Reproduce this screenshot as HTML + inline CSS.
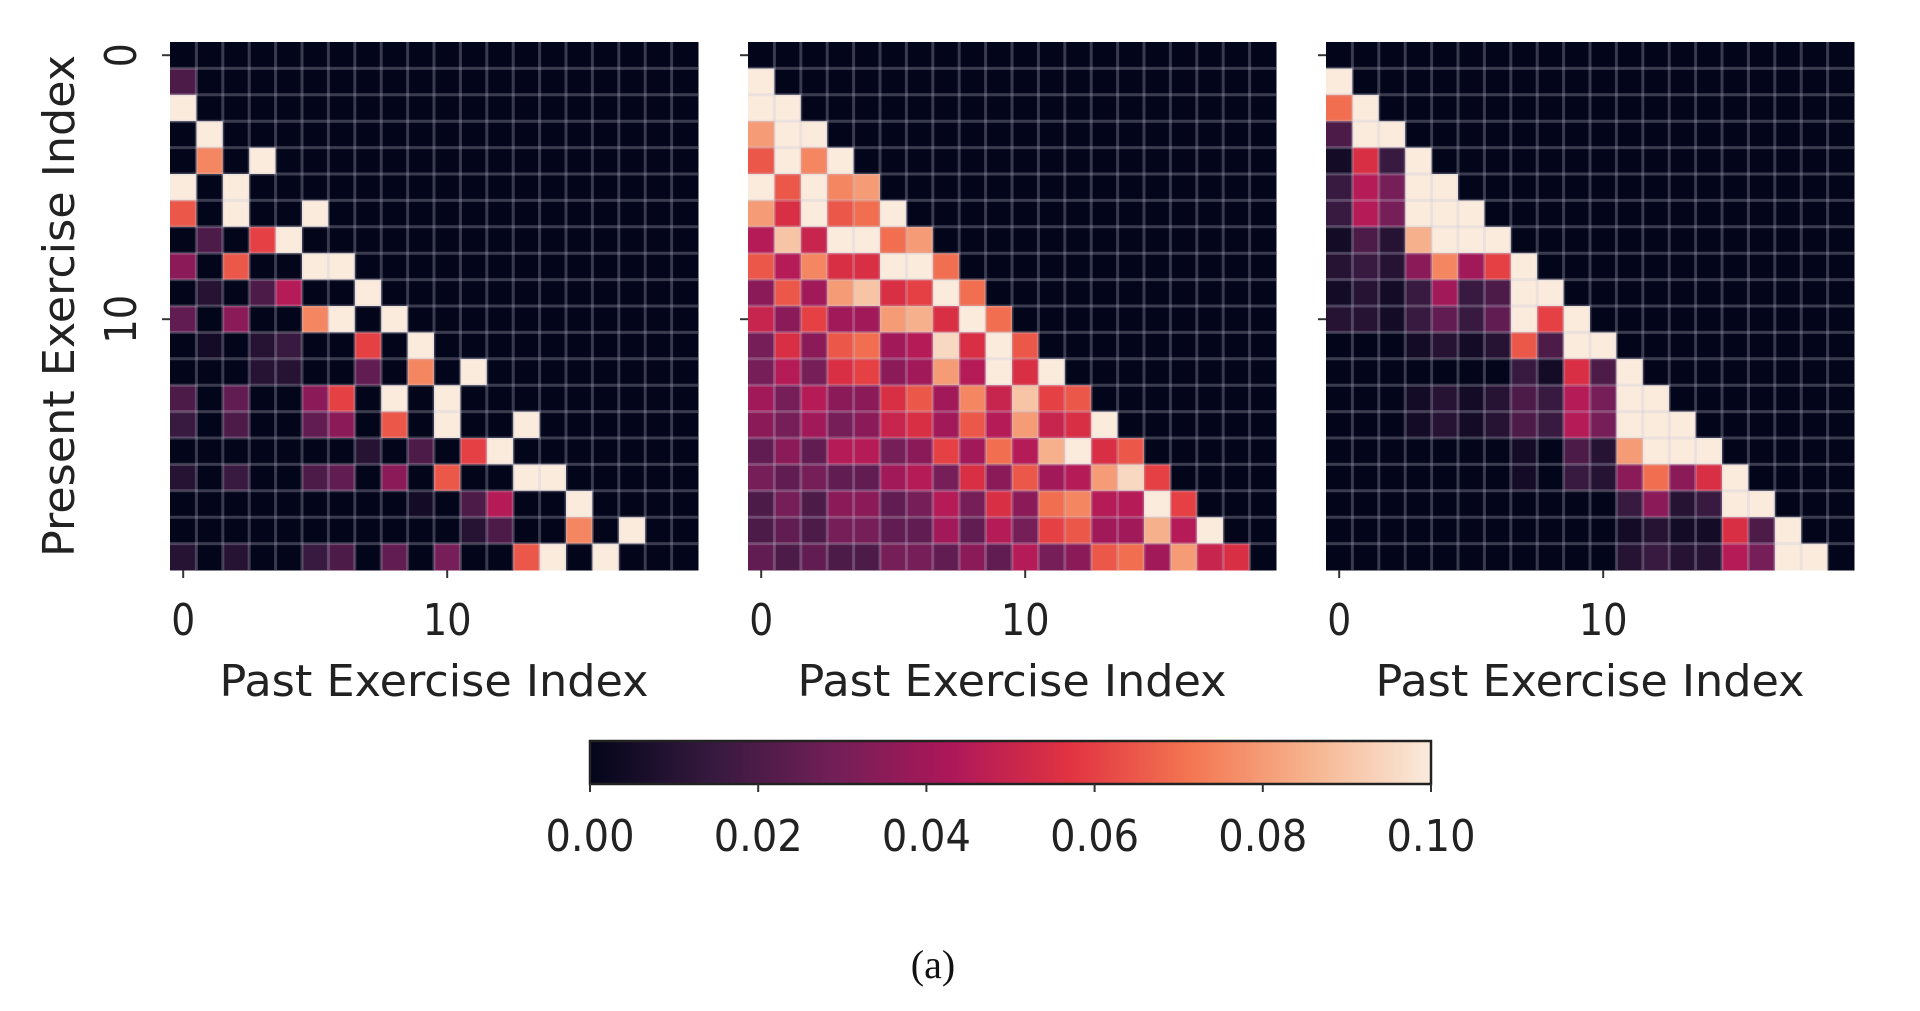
<!DOCTYPE html>
<html><head><meta charset="utf-8"><style>
html,body{margin:0;padding:0;background:#fff;}
svg{display:block;}
text{font-family:"DejaVu Sans","Liberation Sans",sans-serif;fill:#222;}
</style></head><body>
<svg id="fig" width="1920" height="1011" viewBox="0 0 1920 1011" xmlns="http://www.w3.org/2000/svg">
<defs>
<linearGradient id="rocket" x1="0" x2="1" y1="0" y2="0">
<stop offset="0" stop-color="#03051A"/><stop offset="0.143" stop-color="#35193e"/><stop offset="0.286" stop-color="#701f57"/><stop offset="0.429" stop-color="#ad1759"/><stop offset="0.571" stop-color="#e13342"/><stop offset="0.714" stop-color="#f37651"/><stop offset="0.857" stop-color="#f6b48f"/><stop offset="1" stop-color="#FAEBDD"/>
</linearGradient>
</defs>
<g id="panels"></g>
<g id="cbar"></g>
<text x="933" y="978" text-anchor="middle" style="font-family:'Liberation Serif',serif;font-size:40px;fill:#111">(a)</text>
</svg>
<script>
// values in units of 0.01 (colour scale 0..0.10); missing entries are 0
const panelA = [
[],[2],[10],[0,10],[0,7.5,0,10],[10,0,10],[6.5,0,10,0,0,10],[0,2,0,6,10],[3.5,0,6.5,0,0,10,10],[0,1,0,2,4.5,0,0,10],
[2.5,0,3.5,0,0,7.5,10,0,10],[0,0.5,0,1,1.5,0,0,6,0,10],[0,0,0,1,1,0,0,2.5,0,7.5,0,10],[2,0,2.5,0,0,3.5,6,0,10,0,10],
[1.5,0,2,0,0,2.5,3.5,0,6.5,0,10,0,0,10],[0,0,0,0,0,0,0,1,0,2,0,6,10],[1,0,1.5,0,0,2,2.5,0,3.5,0,6.5,0,0,10,10],
[0,0,0,0,0,0,0,0,0,0.5,0,2,4.5,0,0,10],[0,0,0,0,0,0,0,0,0,0,0,1,2,0,0,7.5,0,10],[1,0,1,0,0,1.5,2,0,2.5,0,3,0,0,6.5,10,0,10]
];
const panelB = [
[],[10],[10,10],[8,10,10],[6.5,10,7.5,10],[10,6.5,10,7.5,8],[8,5.5,10,6.5,7,10],[4.5,9,5,10,10,7,8],
[6.5,4.5,7.5,5.5,5.5,10,10,7],[3.5,6.5,4,8,9,5.5,6,10,7],[5,3.5,6,4,4,8,8.5,5.5,10,7],
[3,5.5,3.5,6.5,7,4,4.5,9.5,5.5,10,6.5],[3,4.5,3,5.5,6,3.5,4,8,4.5,10,5.5,10],
[4,3,4.5,3.5,3.5,5.5,6.5,4,7.5,5,9,6,6.5],[3.5,3,4,3,3.5,5,5.5,4,6.5,4.5,8,5,5.5,10],
[2.5,3.5,2.5,4.5,4.5,3,3.5,6,4,7,4.5,8.5,10,5.5,6.5],[3,2.5,3,2.5,2.5,4,4.5,3,5.5,3.5,6.5,4,4.5,8,9.5,6],
[2,3,2,3.5,3.5,2.5,3,4.5,3,5.5,3.5,7,7.5,4.5,4.5,10,6],[2,2.5,2,3,3,2.5,2.5,4,2.5,4.5,3,6,6.5,4,4,8.5,4.5,10],
[2.5,2,2.5,2,2,3,3,2.5,3.5,2.5,4.5,3,3.5,6.5,7,4,8,5,5.5,0]
];
const panelC = [
[],[10],[7,10],[2,10,10],[0.5,5.5,1.5,10],[1.5,4.5,3,10,10],[1.5,4.5,3,10,10,10],[0.5,2,1,8.5,10,10,10],
[1,1.5,1,3.5,7.5,4,6,10],[0.5,1,0.5,1.5,4,1.5,2,10,10],[1,1,0.5,1.5,2.5,1.5,2.5,10,6,10],
[0,0,0,0.5,1,0.5,1,6.5,2,10,10],[0,0,0,0,0,0,0,1.5,0.5,5.5,2,10],[0,0,0,0.5,1,0.5,1,2,1.5,4.5,3,10,10],
[0,0,0,0.5,1,0.5,1,2,1.5,4.5,3,10,10,10],[0,0,0,0,0,0,0,0.5,0,2,1,8,10,10,10],
[0,0,0,0,0,0,0,0.5,0,1.5,1,3.5,7,3.5,5.5,10],[0,0,0,0,0,0,0,0,0,0,0,1.5,3.5,1,1.5,10,10],
[0,0,0,0,0,0,0,0,0,0,0,0.5,1,0.5,0.5,5.5,2,10],[0,0,0,0,0,0,0,0,0,0,0,1,1.5,1,1,4.5,3,10,10]
];
const xTicks = [0, 10];
const yTicks = [0, 10];
const cbarTicks = [0, 0.02, 0.04, 0.06, 0.08, 0.10];
const cbarLabels = ["0.00","0.02","0.04","0.06","0.08","0.10"];
const panelNames = ["heatmap-model-a","heatmap-model-b","heatmap-model-c"];

const NS = "http://www.w3.org/2000/svg";
const stops = [[0,[3,5,26]],[0.143,[53,25,62]],[0.286,[112,31,87]],[0.429,[173,23,89]],[0.571,[225,51,66]],[0.714,[243,118,81]],[0.857,[246,180,143]],[1,[250,235,221]]];
function rocket(t){
  t=Math.max(0,Math.min(1,t));
  for(let i=1;i<stops.length;i++){
    if(t<=stops[i][0]){
      const a=stops[i-1],b=stops[i],f=(t-a[0])/(b[0]-a[0]);
      const c=a[1].map((v,k)=>Math.round(v+(b[1][k]-v)*f));
      return `rgb(${c[0]},${c[1]},${c[2]})`;
    }
  }
  return "rgb(250,235,221)";
}
function mk(tag, attrs, parent){
  const e=document.createElementNS(NS,tag);
  for(const k in attrs) e.setAttribute(k,attrs[k]);
  parent.appendChild(e); return e;
}
const N=20, PW=528, PY=42;
const panelX=[170,748,1326];
const panels=document.getElementById('panels');
[panelA,panelB,panelC].forEach((data,p)=>{
  const x0=panelX[p], cs=PW/N;
  const xs=c=>x0+c*cs, ys=r=>PY+r*cs;
  const g=mk('g',{},panels);
  
  
  for(let r=0;r<N;r++){
    for(let c=0;c<N;c++){
      const v=(data[r][c]||0)*0.01;
      const rc=mk('rect',{x:xs(c),y:ys(r),width:cs+0.5,height:cs+0.5,fill:rocket(v/0.1)},g);
      
      
    }
  }
  for(let i=1;i<N;i++){
    mk('line',{x1:xs(i),x2:xs(i),y1:PY,y2:PY+PW,stroke:'rgba(200,200,220,0.28)','stroke-width':3},g);
    mk('line',{x1:x0,x2:x0+PW,y1:ys(i),y2:ys(i),stroke:'rgba(200,200,220,0.28)','stroke-width':3},g);
  }
  xTicks.forEach(t=>{
    const cx=xs(t+0.5);
    mk('line',{x1:cx,x2:cx,y1:PY+PW,y2:PY+PW+8,stroke:'#333','stroke-width':2},g);
    const tx=mk('text',{x:cx,y:635,'text-anchor':'middle','font-size':44,textLength:t<10?24:49,lengthAdjust:'spacingAndGlyphs'},g);
    
    
    tx.textContent=String(t);
    const cy=ys(t+0.5);
    mk('line',{x1:x0-8,x2:x0,y1:cy,y2:cy,stroke:'#333','stroke-width':2},g);
    if(p===0){
      const ty=mk('text',{x:0,y:0,'text-anchor':'middle','font-size':44,textLength:t<10?24:49,lengthAdjust:'spacingAndGlyphs',transform:`translate(136,${cy}) rotate(-90)`},g);
      
      
      ty.textContent=String(t);
    }
  });
  const xl=mk('text',{x:x0+264,y:696,'text-anchor':'middle','font-size':44,textLength:429,lengthAdjust:'spacingAndGlyphs'},g);
  
  
  xl.textContent='Past Exercise Index';
});
const yl=mk('text',{x:0,y:0,'text-anchor':'middle','font-size':44,textLength:502,lengthAdjust:'spacingAndGlyphs',transform:'translate(74,306) rotate(-90)'},panels);


yl.textContent='Present Exercise Index';

const cb=document.getElementById('cbar');
const CX0=590, CX1=1431, CY0=741, CY1=784;
const cx=v=>CX0+(v/0.1)*(CX1-CX0);
const bar=mk('rect',{x:CX0,y:CY0,width:CX1-CX0,height:CY1-CY0,fill:'url(#rocket)',stroke:'#222','stroke-width':2.5},cb);


cbarTicks.forEach((t,i)=>{
  mk('line',{x1:cx(t),x2:cx(t),y1:CY1,y2:CY1+8,stroke:'#333','stroke-width':2},cb);
  const l=mk('text',{x:cx(t),y:851,'text-anchor':'middle','font-size':44,textLength:89,lengthAdjust:'spacingAndGlyphs'},cb);
  
  
  l.textContent=cbarLabels[i];
});
</script>
</body></html>
